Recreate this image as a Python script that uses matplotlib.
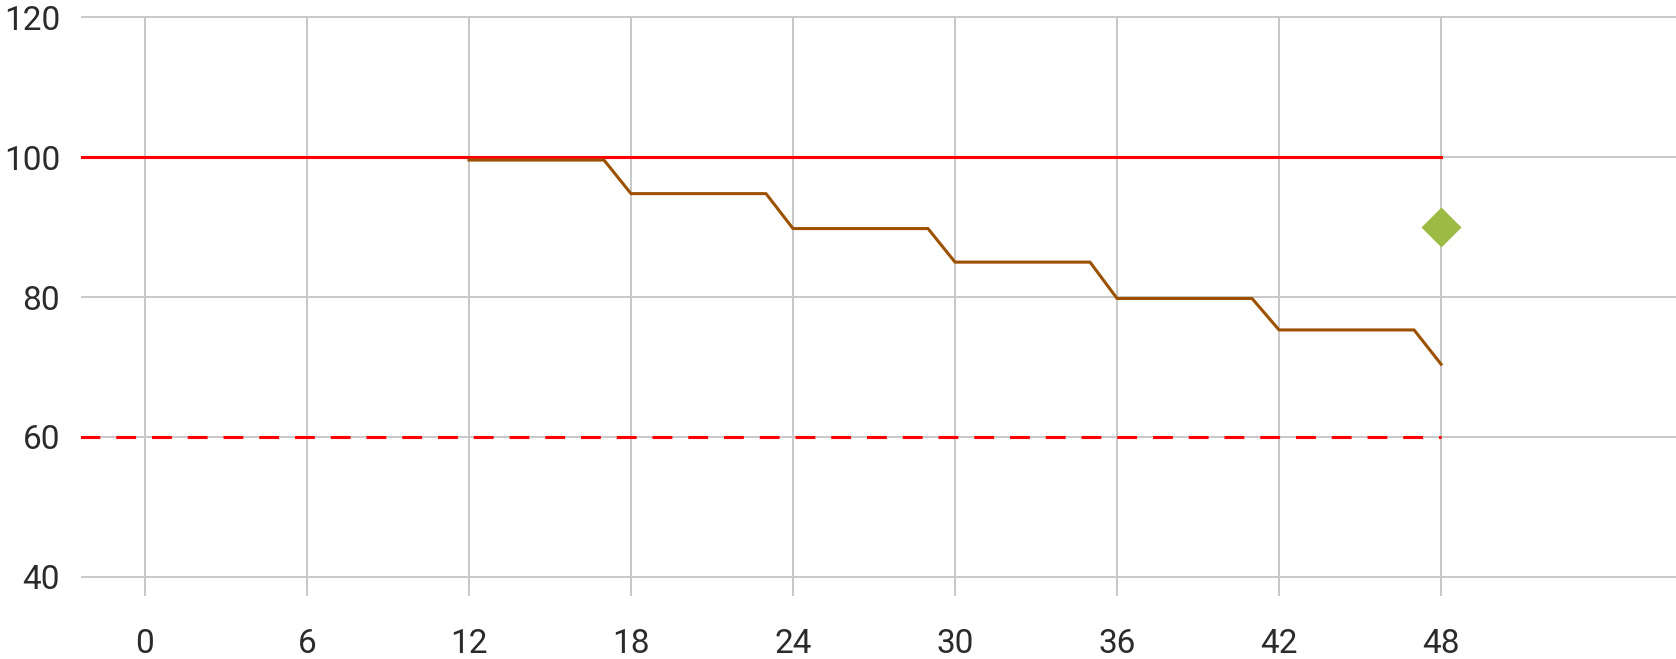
import matplotlib
matplotlib.use("Agg")
import matplotlib.pyplot as plt

plt.rcParams['font.family'] = ['Roboto', 'Noto Sans CJK SC', 'DejaVu Sans']

# data
x_ticks = [0, 6, 12, 18, 24, 30, 36, 42, 48]
y_ticks = [40, 60, 80, 100, 120]

step_x = [12, 17, 18, 23, 24, 29, 30, 35, 36, 41, 42, 47, 48]
step_y = [99.6, 99.6, 94.8, 94.8, 89.8, 89.8, 85.0, 85.0, 79.8, 79.8, 75.3, 75.3, 70.4]

upper_x = [-2.4, 48]
upper_y = [100, 100]

lower_x = [-2.4, 48]
lower_y = [60, 60]

point_x = [48]
point_y = [90]


def main():
    fig = plt.figure(figsize=(16.76, 6.59), dpi=100)
    ax = fig.add_axes([0.0483, 0.0956, 0.9517, 0.8795])

    ax.plot(upper_x, upper_y, color='#FF0000', lw=2.2, zorder=3)
    ax.plot(lower_x, lower_y, color='#FF0000', lw=2.2, dashes=(6.5, 5.2), zorder=3)
    ax.plot(step_x, step_y, color='#9C5100', lw=2.2, zorder=4)
    ax.plot(point_x, point_y, linestyle='none', marker='D', ms=20,
            color='#9BBB45', mec='none', zorder=5)

    ax.set_xlim(-2.37, 56.7)
    ax.set_ylim(37.24, 120.15)
    ax.set_xticks(x_ticks)
    ax.set_yticks(y_ticks)

    ax.grid(True, color='#C8C8C8', lw=1.4)
    ax.set_axisbelow(True)
    for s in ax.spines.values():
        s.set_visible(False)

    ax.tick_params(axis='both', length=0, labelsize=24, labelcolor='#2b2b2b')
    ax.tick_params(axis='x', pad=23)
    ax.tick_params(axis='y', pad=15)

    fig.savefig('out.png', dpi=100)


if __name__ == "__main__":
    main()
